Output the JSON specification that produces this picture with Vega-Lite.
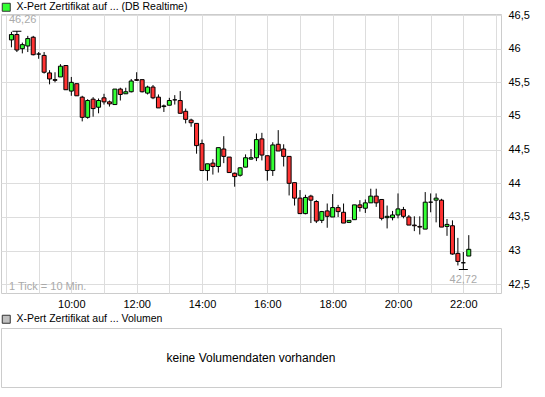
{
  "$schema": "https://vega.github.io/schema/vega-lite/v6.json",
  "padding": {"left": 0, "top": 1, "right": 0, "bottom": 0},
  "background": "white",
  "spacing": 35,
  "bounds": "flush",
  "resolve": {"scale": {"fill": "independent"}, "legend": {"fill": "independent"}},
  "config": {
    "view": {"stroke": "#cccccc", "strokeWidth": 1},
    "axis": {"gridColor": "#dddddd", "gridWidth": 1, "domain": false, "ticks": false, "labelFont": "Liberation Sans", "labelFontSize": 11, "labelColor": "#000000", "title": null, "labelOverlap": false},
    "legend": {"orient": "none", "title": null, "padding": 0, "symbolType": "square", "symbolSize": 64, "symbolOpacity": 1, "symbolStrokeColor": "#333333", "symbolStrokeWidth": 1, "labelFont": "Liberation Sans", "labelFontSize": 10.5, "labelColor": "#000000", "labelOffset": 5, "labelLimit": 400}
  },
  "vconcat": [
    {
      "width": 500,
      "height": 279,
      "data": {"values": [
        {"t":"2024-01-02T08:10:00","o":46.13,"h":46.25,"l":46.02,"c":46.21},
        {"t":"2024-01-02T08:20:00","o":46.21,"h":46.26,"l":45.95,"c":45.98},
        {"t":"2024-01-02T08:30:00","o":46.00,"h":46.09,"l":45.93,"c":46.06},
        {"t":"2024-01-02T08:40:00","o":46.04,"h":46.19,"l":45.95,"c":46.15},
        {"t":"2024-01-02T08:50:00","o":46.17,"h":46.19,"l":45.90,"c":45.91},
        {"t":"2024-01-02T09:00:00","o":45.92,"h":45.95,"l":45.85,"c":45.92},
        {"t":"2024-01-02T09:10:00","o":45.90,"h":45.95,"l":45.63,"c":45.65},
        {"t":"2024-01-02T09:20:00","o":45.64,"h":45.68,"l":45.47,"c":45.55},
        {"t":"2024-01-02T09:30:00","o":45.54,"h":45.65,"l":45.50,"c":45.53},
        {"t":"2024-01-02T09:40:00","o":45.58,"h":45.77,"l":45.58,"c":45.74},
        {"t":"2024-01-02T09:50:00","o":45.75,"h":45.75,"l":45.39,"c":45.39},
        {"t":"2024-01-02T10:00:00","o":45.37,"h":45.58,"l":45.30,"c":45.50},
        {"t":"2024-01-02T10:10:00","o":45.48,"h":45.48,"l":45.30,"c":45.30},
        {"t":"2024-01-02T10:20:00","o":45.28,"h":45.30,"l":44.92,"c":44.98},
        {"t":"2024-01-02T10:30:00","o":44.98,"h":45.25,"l":44.96,"c":45.23},
        {"t":"2024-01-02T10:40:00","o":45.25,"h":45.28,"l":44.99,"c":45.11},
        {"t":"2024-01-02T10:50:00","o":45.13,"h":45.26,"l":45.04,"c":45.23},
        {"t":"2024-01-02T11:00:00","o":45.27,"h":45.33,"l":45.17,"c":45.21},
        {"t":"2024-01-02T11:10:00","o":45.21,"h":45.23,"l":45.14,"c":45.18},
        {"t":"2024-01-02T11:20:00","o":45.17,"h":45.40,"l":45.17,"c":45.40},
        {"t":"2024-01-02T11:30:00","o":45.40,"h":45.42,"l":45.23,"c":45.32},
        {"t":"2024-01-02T11:40:00","o":45.33,"h":45.42,"l":45.33,"c":45.36},
        {"t":"2024-01-02T11:50:00","o":45.36,"h":45.55,"l":45.35,"c":45.52},
        {"t":"2024-01-02T12:00:00","o":45.54,"h":45.65,"l":45.52,"c":45.53},
        {"t":"2024-01-02T12:10:00","o":45.54,"h":45.54,"l":45.35,"c":45.36},
        {"t":"2024-01-02T12:20:00","o":45.34,"h":45.45,"l":45.32,"c":45.43},
        {"t":"2024-01-02T12:30:00","o":45.43,"h":45.46,"l":45.25,"c":45.27},
        {"t":"2024-01-02T12:40:00","o":45.28,"h":45.32,"l":45.12,"c":45.12},
        {"t":"2024-01-02T12:50:00","o":45.14,"h":45.17,"l":45.06,"c":45.15},
        {"t":"2024-01-02T13:00:00","o":45.16,"h":45.27,"l":45.16,"c":45.23},
        {"t":"2024-01-02T13:10:00","o":45.24,"h":45.31,"l":45.17,"c":45.24},
        {"t":"2024-01-02T13:20:00","o":45.23,"h":45.37,"l":45.04,"c":45.04},
        {"t":"2024-01-02T13:30:00","o":45.07,"h":45.11,"l":44.89,"c":44.95},
        {"t":"2024-01-02T13:40:00","o":44.94,"h":44.96,"l":44.84,"c":44.90},
        {"t":"2024-01-02T13:50:00","o":44.89,"h":44.89,"l":44.44,"c":44.56},
        {"t":"2024-01-02T14:00:00","o":44.59,"h":44.65,"l":44.19,"c":44.19},
        {"t":"2024-01-02T14:10:00","o":44.19,"h":44.29,"l":44.04,"c":44.29},
        {"t":"2024-01-02T14:20:00","o":44.30,"h":44.36,"l":44.13,"c":44.25},
        {"t":"2024-01-02T14:30:00","o":44.25,"h":44.53,"l":44.16,"c":44.53},
        {"t":"2024-01-02T14:40:00","o":44.51,"h":44.70,"l":44.30,"c":44.40},
        {"t":"2024-01-02T14:50:00","o":44.39,"h":44.39,"l":44.16,"c":44.16},
        {"t":"2024-01-02T15:00:00","o":44.15,"h":44.16,"l":43.95,"c":44.10},
        {"t":"2024-01-02T15:10:00","o":44.12,"h":44.24,"l":44.10,"c":44.23},
        {"t":"2024-01-02T15:20:00","o":44.24,"h":44.43,"l":44.24,"c":44.38},
        {"t":"2024-01-02T15:30:00","o":44.36,"h":44.51,"l":44.35,"c":44.38},
        {"t":"2024-01-02T15:40:00","o":44.38,"h":44.74,"l":44.33,"c":44.65},
        {"t":"2024-01-02T15:50:00","o":44.66,"h":44.75,"l":44.34,"c":44.42},
        {"t":"2024-01-02T16:00:00","o":44.41,"h":44.41,"l":44.04,"c":44.19},
        {"t":"2024-01-02T16:10:00","o":44.19,"h":44.61,"l":44.11,"c":44.57},
        {"t":"2024-01-02T16:20:00","o":44.58,"h":44.79,"l":44.48,"c":44.48},
        {"t":"2024-01-02T16:30:00","o":44.51,"h":44.58,"l":44.25,"c":44.40},
        {"t":"2024-01-02T16:40:00","o":44.40,"h":44.40,"l":43.82,"c":44.00},
        {"t":"2024-01-02T16:50:00","o":44.01,"h":44.01,"l":43.67,"c":43.78},
        {"t":"2024-01-02T17:00:00","o":43.78,"h":43.90,"l":43.55,"c":43.55},
        {"t":"2024-01-02T17:10:00","o":43.55,"h":43.83,"l":43.54,"c":43.79},
        {"t":"2024-01-02T17:20:00","o":43.81,"h":43.83,"l":43.41,"c":43.75},
        {"t":"2024-01-02T17:30:00","o":43.73,"h":43.75,"l":43.41,"c":43.44},
        {"t":"2024-01-02T17:40:00","o":43.45,"h":43.59,"l":43.41,"c":43.58},
        {"t":"2024-01-02T17:50:00","o":43.59,"h":43.70,"l":43.34,"c":43.51},
        {"t":"2024-01-02T18:00:00","o":43.50,"h":43.84,"l":43.50,"c":43.64},
        {"t":"2024-01-02T18:10:00","o":43.64,"h":43.68,"l":43.50,"c":43.58},
        {"t":"2024-01-02T18:20:00","o":43.57,"h":43.70,"l":43.41,"c":43.41},
        {"t":"2024-01-02T18:30:00","o":43.42,"h":43.45,"l":43.41,"c":43.45},
        {"t":"2024-01-02T18:40:00","o":43.46,"h":43.68,"l":43.46,"c":43.68},
        {"t":"2024-01-02T18:50:00","o":43.68,"h":43.75,"l":43.58,"c":43.64},
        {"t":"2024-01-02T19:00:00","o":43.63,"h":43.76,"l":43.56,"c":43.71},
        {"t":"2024-01-02T19:10:00","o":43.71,"h":43.92,"l":43.71,"c":43.81},
        {"t":"2024-01-02T19:20:00","o":43.81,"h":43.92,"l":43.65,"c":43.71},
        {"t":"2024-01-02T19:30:00","o":43.76,"h":43.76,"l":43.45,"c":43.48},
        {"t":"2024-01-02T19:40:00","o":43.49,"h":43.67,"l":43.33,"c":43.51},
        {"t":"2024-01-02T19:50:00","o":43.49,"h":43.59,"l":43.45,"c":43.53},
        {"t":"2024-01-02T20:00:00","o":43.53,"h":43.85,"l":43.48,"c":43.62},
        {"t":"2024-01-02T20:10:00","o":43.61,"h":43.65,"l":43.48,"c":43.51},
        {"t":"2024-01-02T20:20:00","o":43.50,"h":43.53,"l":43.38,"c":43.38},
        {"t":"2024-01-02T20:30:00","o":43.38,"h":43.51,"l":43.29,"c":43.37},
        {"t":"2024-01-02T20:40:00","o":43.36,"h":43.51,"l":43.24,"c":43.35},
        {"t":"2024-01-02T20:50:00","o":43.32,"h":43.87,"l":43.32,"c":43.72},
        {"t":"2024-01-02T21:00:00","o":43.72,"h":43.85,"l":43.57,"c":43.72},
        {"t":"2024-01-02T21:10:00","o":43.75,"h":43.85,"l":43.42,"c":43.78},
        {"t":"2024-01-02T21:20:00","o":43.75,"h":43.77,"l":43.35,"c":43.35},
        {"t":"2024-01-02T21:30:00","o":43.36,"h":43.47,"l":43.22,"c":43.39},
        {"t":"2024-01-02T21:40:00","o":43.37,"h":43.45,"l":42.94,"c":42.95},
        {"t":"2024-01-02T21:50:00","o":42.96,"h":43.19,"l":42.78,"c":42.84},
        {"t":"2024-01-02T22:00:00","o":42.82,"h":42.98,"l":42.72,"c":42.82},
        {"t":"2024-01-02T22:10:00","o":42.92,"h":43.23,"l":42.92,"c":43.02}
      ]},
      "layer": [
        {
          "mark": {"type": "rule", "color": "#000000", "strokeWidth": 1},
          "encoding": {
            "x": {"field": "t", "type": "temporal",
              "scale": {"domain": [{"year": 2024, "month": 1, "date": 2, "hours": 8}, {"year": 2024, "month": 1, "date": 2, "hours": 23}]},
              "axis": {"orient": "bottom", "grid": true, "tickCount": 15, "labelPadding": 5, "labelFlush": false,
                "labelExpr": "hours(datum.value) % 2 == 0 && hours(datum.value) >= 10 ? timeFormat(datum.value, '%H:%M') : ''"}},
            "y": {"field": "l", "type": "quantitative",
              "scale": {"domain": [42.371, 46.515], "zero": false, "nice": false},
              "axis": {"orient": "right", "grid": true, "tickCount": 20, "values": [42.5, 43, 43.5, 44, 44.5, 45, 45.5, 46, 46.5], "labelPadding": 7,
                "labelExpr": "replace(format(datum.value, '.1~f'), '.', ',')"}},
            "y2": {"field": "h"}
          }
        },
        {
          "mark": {"type": "bar", "size": 4, "stroke": "#000000", "strokeWidth": 1},
          "encoding": {
            "x": {"field": "t", "type": "temporal"},
            "y": {"field": "o", "type": "quantitative"},
            "y2": {"field": "c"},
            "fill": {"condition": {"test": "datum.c >= datum.o", "value": "#33ff33"}, "value": "#ff3333"}
          }
        },
        {
          "data": {"values": [{"t": "2024-01-02T08:20:00", "v": 46.26}, {"t": "2024-01-02T22:00:00", "v": 42.72}]},
          "mark": {"type": "tick", "orient": "horizontal", "size": 9, "thickness": 1, "color": "#000000", "opacity": 1},
          "encoding": {
            "x": {"field": "t", "type": "temporal"},
            "y": {"field": "v", "type": "quantitative"}
          }
        },
        {
          "data": {"values": [{"t": "2024-01-02T08:20:00", "v": 46.26, "lab": "46,26"}]},
          "mark": {"type": "text", "align": "left", "baseline": "bottom", "dx": -8, "dy": -6, "fontSize": 11, "font": "Liberation Sans", "color": "#aaaaaa"},
          "encoding": {
            "x": {"field": "t", "type": "temporal"},
            "y": {"field": "v", "type": "quantitative"},
            "text": {"field": "lab"}
          }
        },
        {
          "data": {"values": [{"t": "2024-01-02T22:00:00", "v": 42.72, "lab": "42,72"}]},
          "mark": {"type": "text", "align": "center", "baseline": "top", "dy": 4, "fontSize": 11, "font": "Liberation Sans", "color": "#aaaaaa"},
          "encoding": {
            "x": {"field": "t", "type": "temporal"},
            "y": {"field": "v", "type": "quantitative"},
            "text": {"field": "lab"}
          }
        },
        {
          "data": {"values": [{"t": "2024-01-02T08:00:00", "v": 42.416, "lab": "1 Tick = 10 Min."}]},
          "mark": {"type": "text", "align": "left", "baseline": "alphabetic", "dx": 3, "fontSize": 11, "font": "Liberation Sans", "color": "#aaaaaa"},
          "encoding": {
            "x": {"field": "t", "type": "temporal"},
            "y": {"field": "v", "type": "quantitative"},
            "text": {"field": "lab"}
          }
        },
        {
          "data": {"values": [{"t": "2024-01-02T08:00:00", "v": 46.0, "series": "X-Pert Zertifikat auf ... (DB Realtime)"}]},
          "mark": {"type": "square", "opacity": 0},
          "encoding": {
            "x": {"field": "t", "type": "temporal"},
            "y": {"field": "v", "type": "quantitative"},
            "fill": {"field": "series", "type": "nominal", "scale": {"range": ["#33ff33"]},
              "legend": {"legendX": 0, "legendY": -12}}
          }
        }
      ]
    },
    {
      "width": 500,
      "height": 59,
      "data": {"values": [{"px": 0.5, "py": 0.5, "msg": "keine Volumendaten vorhanden", "series": "X-Pert Zertifikat auf ... Volumen"}]},
      "layer": [
        {
          "mark": {"type": "text", "fontSize": 12, "font": "Liberation Sans", "color": "#000000", "align": "center", "baseline": "middle"},
          "encoding": {
            "x": {"field": "px", "type": "quantitative", "scale": {"domain": [0, 1]}, "axis": null},
            "y": {"field": "py", "type": "quantitative", "scale": {"domain": [0, 1]}, "axis": null},
            "text": {"field": "msg"}
          }
        },
        {
          "mark": {"type": "square", "opacity": 0},
          "encoding": {
            "x": {"field": "px", "type": "quantitative"},
            "y": {"field": "py", "type": "quantitative"},
            "fill": {"field": "series", "type": "nominal", "scale": {"range": ["#c0c0c0"]},
              "legend": {"legendX": 0, "legendY": -14}}
          }
        }
      ]
    }
  ]
}
